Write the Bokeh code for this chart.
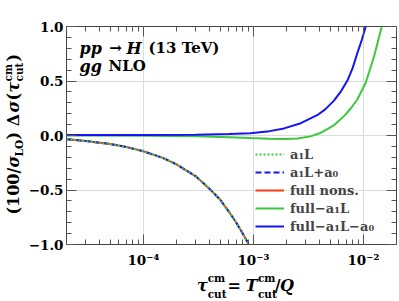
from bokeh.plotting import figure
from bokeh.layouts import row, column
from bokeh.models import Range1d, FixedTicker, LogAxis, LinearAxis, Label, Legend, LegendItem
from bokeh.embed import file_html
from bokeh.resources import INLINE

# ---------------- data ----------------
tau_low = [2.0e-5, 3.0e-5, 5.0e-5, 7.0e-5, 1.0e-4, 1.5e-4, 2.0e-4, 3.0e-4, 4.0e-4,
           5.0e-4, 6.0e-4, 7.0e-4, 8.0e-4, 9.1e-4, 9.4e-4]
a1L = [-0.035, -0.050, -0.078, -0.105, -0.145, -0.205, -0.265, -0.375, -0.49,
       -0.59, -0.70, -0.80, -0.90, -1.0, -1.03]
a1L_plus_a0 = [-0.035, -0.050, -0.078, -0.105, -0.145, -0.205, -0.265, -0.375, -0.49,
               -0.59, -0.70, -0.80, -0.90, -1.0, -1.03]
full_nons = [-0.035, -0.050, -0.078, -0.105, -0.145, -0.205, -0.265, -0.375, -0.49,
             -0.59, -0.70, -0.80, -0.90, -1.0, -1.03]

tau_g = [2e-5, 1e-4, 3e-4, 6e-4, 9.4e-4, 1.4e-3, 1.9e-3, 2.5e-3, 3.3e-3, 4.0e-3,
         4.7e-3, 5.5e-3, 6.7e-3, 7.7e-3, 8.8e-3, 1.05e-2, 1.25e-2, 1.47e-2, 1.55e-2]
full_minus_a1L = [0.0, -0.002, -0.008, -0.015, -0.023, -0.029, -0.032, -0.028, -0.008, 0.02,
                  0.059, 0.10, 0.18, 0.25, 0.33, 0.484, 0.725, 1.0, 1.1]

tau_b = [2e-5, 1e-4, 3e-4, 6e-4, 9.4e-4, 1.4e-3, 1.9e-3, 2.7e-3, 3.8e-3, 4.5e-3,
         5.4e-3, 6.3e-3, 7.2e-3, 8.0e-3, 8.8e-3, 9.7e-3, 1.05e-2, 1.1e-2]
full_minus_a1L_a0 = [0.004, 0.005, 0.008, 0.013, 0.02, 0.04, 0.065, 0.113, 0.186, 0.24,
                     0.32, 0.41, 0.51, 0.62, 0.755, 0.88, 1.0, 1.1]

legend_labels = ["a\u2081L", "a\u2081L+a\u2080", "full nons.", "full\u2212a\u2081L", "full\u2212a\u2081L\u2212a\u2080"]

x_tick_values = [1e-4, 1e-3, 1e-2]
x_tick_labels = ["10\u207b\u2074", "10\u207b\u00b3", "10\u207b\u00b2"]
y_tick_values = [-1, -0.5, 0, 0.5, 1]
y_tick_labels = ["\u22121.0", "\u22120.5", "0.0", "0.5", "1.0"]

X0, X1 = 2e-5, 2e-2
Y0, Y1 = -1.0, 1.0

# ---------------- layout (page pixels) ----------------
TOTAL_W, TOTAL_H = 399, 301
YLAB_W = 25                 # strip holding the y-axis title
MAIN_W, MAIN_H = TOTAL_W - YLAB_W, 270
XLAB_H = TOTAL_H - MAIN_H   # strip holding the x-axis title
BL, BR, BT, BB = 40, 3, 26, 24
FL, FR, FT, FB = YLAB_W + BL, TOTAL_W - BR, BT, MAIN_H - BB   # frame edges in page px
MID = 0.34                  # baseline sits this many em below a "middle" anchor

RED = "#ff3a10"
GREEN = "#3cc83c"
BLUE = "#1414f5"
FONT = "DejaVu Serif"
TICKC = "#555555"

p = figure(width=MAIN_W, height=MAIN_H, x_axis_type="log", title=None,
           x_range=Range1d(X0, X1), y_range=Range1d(Y0, Y1),
           output_backend="svg", toolbar_location=None,
           min_border_left=BL, min_border_right=BR, min_border_top=BT, min_border_bottom=BB)
p.background_fill_color = "white"
p.border_fill_color = "white"
p.outline_line_color = "#444444"
p.outline_line_width = 1

x_minor = [m * 10.0 ** e for e in (-5, -4, -3) for m in range(2, 10)] + [2e-2]
y_minor = [k / 10 for k in range(-9, 10) if k % 5 != 0]


def style_axis(ax):
    ax.axis_line_color = None
    ax.major_tick_in = 10
    ax.major_tick_out = 0
    ax.minor_tick_in = 5
    ax.minor_tick_out = 0
    ax.major_tick_line_color = TICKC
    ax.minor_tick_line_color = TICKC
    ax.major_tick_line_width = 1
    ax.minor_tick_line_width = 1
    ax.major_label_text_font = FONT
    ax.major_label_text_font_style = "bold"
    ax.major_label_text_font_size = "13.5px"
    ax.major_label_text_color = "black"


xa = p.xaxis[0]
xa.ticker = FixedTicker(ticks=x_tick_values, minor_ticks=x_minor)
style_axis(xa)
xa.major_label_overrides = dict(zip(x_tick_values, x_tick_labels))
xa.major_label_standoff = 7

ya = p.yaxis[0]
ya.ticker = FixedTicker(ticks=y_tick_values, minor_ticks=y_minor)
style_axis(ya)
ya.major_label_overrides = dict(zip(y_tick_values, y_tick_labels))
ya.major_label_standoff = 3

top = LogAxis(ticker=FixedTicker(ticks=x_tick_values, minor_ticks=x_minor))
style_axis(top)
top.major_label_overrides = {v: "" for v in x_tick_values}
top.major_label_text_font_size = "1px"
top.major_label_text_alpha = 0
top.major_label_standoff = 0
p.add_layout(top, "above")

right = LinearAxis(ticker=FixedTicker(ticks=y_tick_values, minor_ticks=y_minor))
style_axis(right)
right.major_label_overrides = {v: "" for v in y_tick_values}
right.major_label_text_font_size = "1px"
right.major_label_text_alpha = 0
right.major_label_standoff = 0
p.add_layout(right, "right")

p.xgrid.grid_line_color = "#dcdcdc"
p.ygrid.grid_line_color = "#dcdcdc"
p.xgrid.grid_line_width = 1
p.ygrid.grid_line_width = 1

# ---------------- curves ----------------
r_full = p.line(tau_low, full_nons, line_color=RED, line_width=2)
r_a1La0 = p.line(tau_low, a1L_plus_a0, line_color=BLUE, line_width=2, line_dash="6 3")
r_a1L = p.line(tau_low, a1L, line_color=GREEN, line_width=2, line_dash="2 2")
r_g = p.line(tau_g, full_minus_a1L, line_color=GREEN, line_width=2)
r_b = p.line(tau_b, full_minus_a1L_a0, line_color=BLUE, line_width=2)

legend = Legend(items=[
    LegendItem(label=legend_labels[0], renderers=[r_a1L]),
    LegendItem(label=legend_labels[1], renderers=[r_a1La0]),
    LegendItem(label=legend_labels[2], renderers=[r_full]),
    LegendItem(label=legend_labels[3], renderers=[r_g]),
    LegendItem(label=legend_labels[4], renderers=[r_b]),
], location=(254 - FL, FB - 237))
legend.padding = 0
legend.margin = 0
legend.spacing = 0
legend.label_standoff = 6
legend.glyph_width = 29
legend.glyph_height = 18
legend.label_height = 18
legend.border_line_color = None
legend.background_fill_alpha = 0
legend.label_text_font = FONT
legend.label_text_font_style = "bold"
legend.label_text_font_size = "13px"
p.add_layout(legend)


def in_frame_text(px, base_y, text, size, style, align="left"):
    # page px (baseline) -> screen units relative to the frame's bottom-left, middle-anchored
    py = base_y - MID * size
    p.add_layout(Label(x=px - FL, y=FB - py, x_units="screen", y_units="screen", text=text,
                       text_font=FONT, text_font_size=f"{size}px", text_font_style=style,
                       text_align=align, text_baseline="middle", text_color="black"))


# title inside the frame
in_frame_text(78, 55, "pp", 16, "bold italic")
in_frame_text(114, 55, "\u2192", 15, "bold", align="center")
in_frame_text(125, 55, "H", 16, "bold italic")
in_frame_text(147, 55, "(13 TeV)", 15, "bold")
in_frame_text(78, 73, "gg", 16, "bold italic")
in_frame_text(107, 73, "NLO", 15, "bold")


# ---------------- axis-title strips ----------------
def strip(w, h):
    f = figure(width=w, height=h, x_range=Range1d(0, w), y_range=Range1d(0, h), title=None,
               x_axis_location=None, y_axis_location=None, output_backend="svg",
               toolbar_location=None, min_border=0)
    f.outline_line_color = None
    f.background_fill_color = "white"
    f.border_fill_color = "white"
    f.grid.visible = False
    return f


M, S = 16, 10.5

# x-axis title strip (page x offset YLAB_W, page y offset MAIN_H)
xs = strip(MAIN_W, XLAB_H)


def xt(px, base_y, text, size, style, align="left"):
    py = base_y - MID * size
    xs.add_layout(Label(x=px - YLAB_W, y=TOTAL_H - py, text=text, text_font=FONT,
                        text_font_size=f"{size}px", text_font_style=style, text_align=align,
                        text_baseline="middle", text_color="black"))


XB = 290
xt(173, XB, "\u03c4", M, "bold italic")
xt(185, XB - 9, "cm", S, "bold")
xt(185, XB + 7, "cut", S, "bold")
xt(215, XB, "=", M, "bold", align="center")
xt(228, XB, "T", M, "bold italic")
xt(242, XB - 9, "cm", S, "bold")
xt(242, XB + 7, "cut", S, "bold")
xt(261, XB, "/", M, "bold")
xt(267, XB, "Q", M, "bold italic")

# y-axis title strip (page x offset 0, page y offset 0), text reads upwards
ys = strip(YLAB_W, TOTAL_H)


def yt(base_x, py, text, size, style):
    px = base_x - MID * size
    ys.add_layout(Label(x=px, y=TOTAL_H - py, text=text, text_font=FONT,
                        text_font_size=f"{size}px", text_font_style=style, text_align="left",
                        text_baseline="middle", text_color="black",
                        angle=90, angle_units="deg"))


BX = 18
yt(BX, 214, "(100/", M, "bold")
yt(BX, 167, "\u03c3", M, "bold italic")
yt(BX + 4, 156, "LO", S, "bold")
yt(BX, 139, ") \u0394", M, "bold")
yt(BX, 112, "\u03c3", M, "bold italic")
yt(BX, 100, "(", M, "bold")
yt(BX, 92, "\u03c4", M, "bold italic")
yt(BX - 7, 81, "cm", S, "bold")
yt(BX + 4, 81, "cut", S, "bold")
yt(BX, 61, ")", M, "bold")

layout = row(ys, column(p, xs))
open("out.html", "w").write(file_html(layout, INLINE))
